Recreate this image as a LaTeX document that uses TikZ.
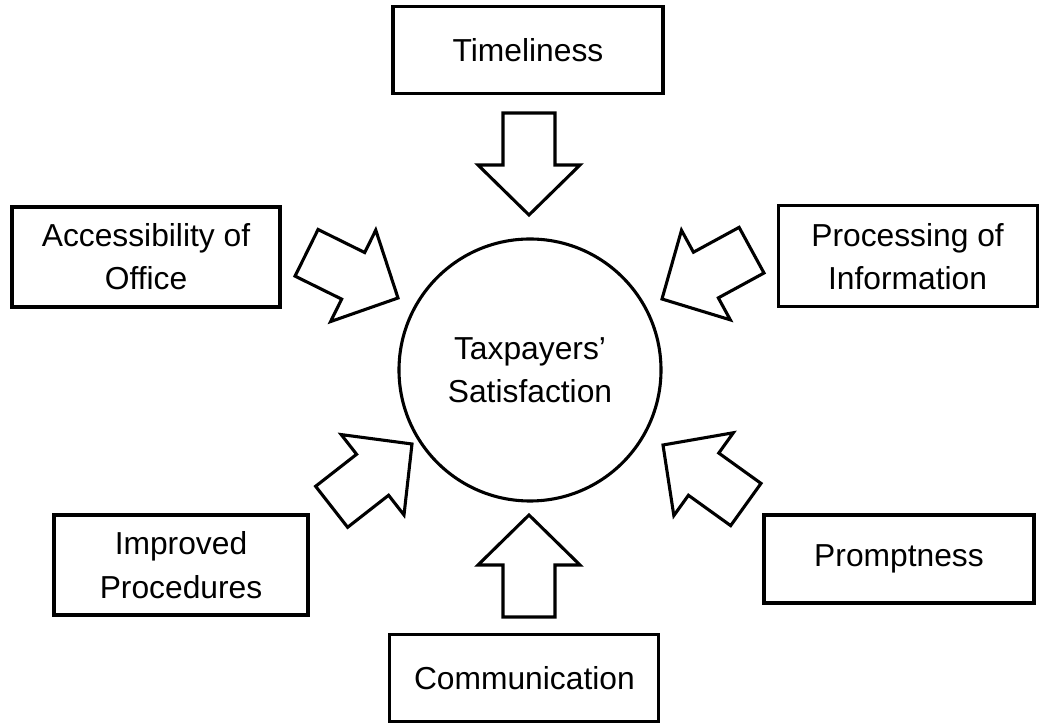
\documentclass[tikz,border=0pt]{standalone}
\usepackage{fontspec}
\setmainfont{Liberation Sans}
\begin{document}
\begin{tikzpicture}[
        font=\fontsize{22.6}{30.8}\selectfont,
        factor/.style={draw, line width=2.2pt, align=center, inner sep=0pt},
        fatarrow/.pic={
            \draw[line width=2.2pt] (0,0) -- (-1.25,1.275) -- (-1.25,0.65) -- (-2.55,0.65)
                -- (-2.55,-0.65) -- (-1.25,-0.65) -- (-1.25,-1.275) -- cycle;
        }
    ]
        \useasboundingbox (0,0) rectangle (26,18.1);
        \node[draw, circle, line width=2.2pt, minimum size=6.55cm, align=center] (sat) at (13.25,8.85) {Taxpayers’\\Satisfaction};
        \node[factor, minimum width=6.75cm, minimum height=2.175cm] (time) at (13.2,16.84) {Timeliness};
        \node[factor, minimum width=6.7cm, minimum height=2.5cm] (access) at (3.65,11.675) {Accessibility of\\Office};
        \node[factor, minimum width=6.475cm, minimum height=2.525cm] (process) at (22.69,11.69) {Processing of\\Information};
        \node[factor, minimum width=6.35cm, minimum height=2.5cm] (improve) at (4.525,3.975) {Improved\\Procedures};
        \node[factor, minimum width=6.75cm, minimum height=2.2cm] (prompt) at (22.475,4.125) {Promptness};
        \node[factor, minimum width=6.725cm, minimum height=2.175cm] (comm) at (13.11,1.14) {Communication};
        % arrow tips sit at the pic origin
        \pic[rotate=-90] (atime) at (13.225,12.725) {fatarrow};
        \pic[rotate=-26.3] (aaccess) at (9.95,10.65) {fatarrow};
        \pic[rotate=208.6] (aprocess) at (16.55,10.625) {fatarrow};
        \pic[rotate=38] (aimprove) at (10.3,7.0) {fatarrow};
        \pic[rotate=144.3] (aprompt) at (16.575,6.975) {fatarrow};
        \pic[rotate=90] (acomm) at (13.225,5.225) {fatarrow};
    \end{tikzpicture}
\end{document}
